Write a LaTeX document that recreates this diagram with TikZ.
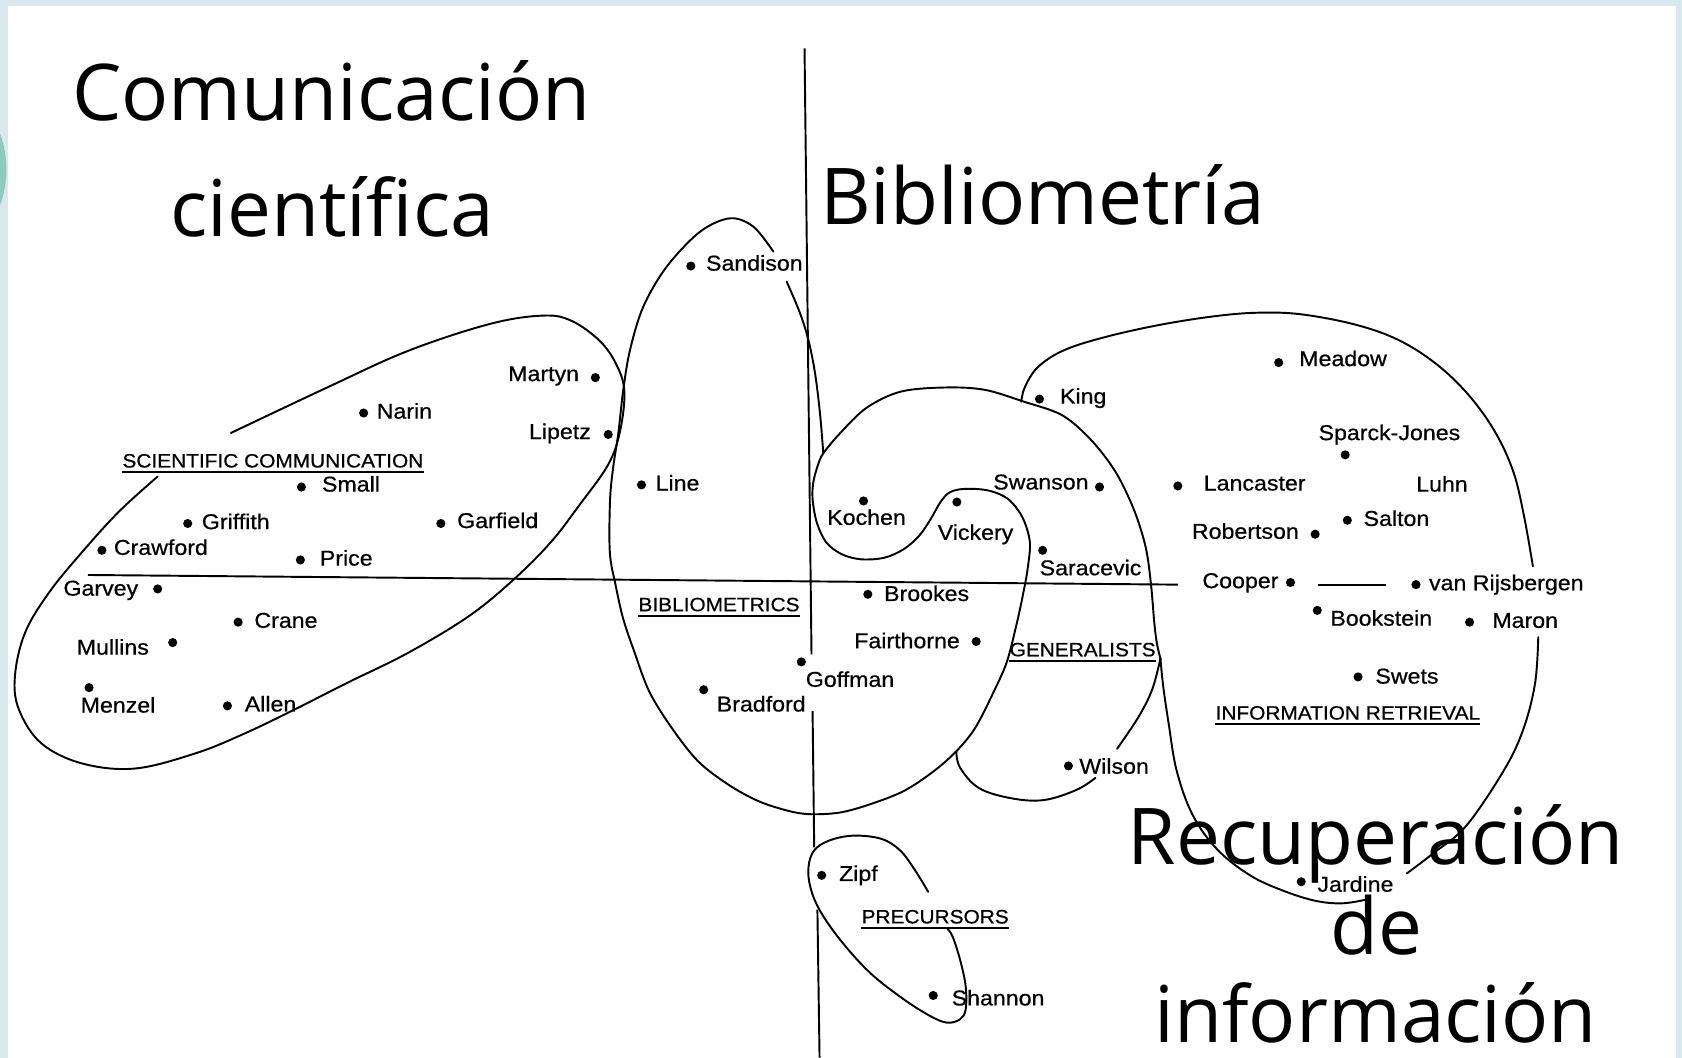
\documentclass[tikz,border=0pt]{standalone}
\usepackage{fontspec}
\newfontfamily\labfont[FakeStretch=1.08,FakeBold=0.6]{Liberation Sans}
\newfontfamily\titlefont{Open Sans}
\definecolor{bgblue}{HTML}{D9E7EE}
\definecolor{tealc}{HTML}{8CCBBE}
\begin{document}
\begin{tikzpicture}[x=1pt,y=-1pt,
  lab/.style={font=\labfont\fontsize{20}{24}\selectfont, inner sep=0pt, text height=14.5pt, text depth=4pt},
  caplab/.style={font=\labfont\fontsize{18}{22}\selectfont, inner sep=0pt, text height=13pt, text depth=0pt},
  dot/.style={circle, fill=black, inner sep=0pt, minimum size=8.5pt},
  big/.style={font=\titlefont\fontsize{73}{88}\selectfont, inner sep=0pt, anchor=base},
  curve/.style={line width=1.8pt, line cap=round, line join=round},
  axis/.style={line width=1.8pt},
  uline/.style={line width=1.5pt}]
\useasboundingbox (0,0) rectangle (1568,986);
% frame
\fill[bgblue] (0,0) rectangle (1568,986);
\fill[white] (7,6) rectangle (1562,986);
\begin{scope}
  \clip (0,0) rectangle (7,986);
  \fill[tealc] (-90,158) circle (96);
\end{scope}

% axes
\coordinate (v1a) at (750,45);   \coordinate (v1b) at (756.5,610);
\coordinate (v2a) at (757.5,663);  \coordinate (v2b) at (759,790);
\coordinate (v3a) at (762,848);  \coordinate (v3b) at (764,986);
\draw[axis] (v1a) -- (v1b);
\draw[axis] (v2a) -- (v2b);
\draw[axis] (v3a) -- (v3b);
\coordinate (h1a) at (82,536);   \coordinate (h1b) at (1098,545);
\coordinate (h2a) at (1229,545); \coordinate (h2b) at (1292,545);
\draw[axis] (h1a) -- (h1b);
\draw[axis] (h2a) -- (h2b);

% scientific communication ellipse
\draw[curve] plot[smooth, tension=0.6] coordinates {
 (215.3,403.6) (304.6,361.4) (380.6,327) (456.6,302) (506,294.2) (532.6,299) (559,317.7)
 (574.4,339.5) (582,364.6) (578,402) (566.8,433.4) (540,471) (513.6,505.3) (479.4,539.7)
 (437.6,574) (380.6,608.5) (323.6,636.6) (274.2,661.6) (228.6,683.5) (183,702) (126,716.4)
 (76.6,711.7) (38.6,693) (17.7,661.6) (13.9,630.4) (23.4,589.7) (46,552) (76.6,514.6)
 (110.8,477) (146.9,444.3)};

% Sandison lobe right side
\draw[curve] plot[smooth, tension=0.6] coordinates {
 (733.4,262.6) (745.8,292) (753.6,317) (759.8,348) (764.4,385.3) (767.5,422.6)};

% bibliometrics outline + S boundary + big arc
\draw[curve] plot[smooth, tension=0.55] coordinates {
 (721,234.6) (702.3,211.3) (680.5,203.5) (652.6,216) (621.5,248.6) (599.7,285.9)
 (587.3,326.3) (581,363.6) (576.4,404) (571.7,435) (568.7,466) (568.5,515)
 (574,546) (581,577) (591.4,607.8) (605.3,644.8) (626.3,678.7) (650.7,709.6) (678.6,731.2)
 (706.5,746.6) (734.5,755.8) (755.4,759) (783.3,757.4) (811.2,749.7) (842.7,737.3)
 (870.6,718.8) (891.5,700.3) (909,678.7) (926.4,644.8) (938.6,617) (947.4,583) (953.5,555)
 (958,530) (960,505) (953,482) (939.6,465.1) (921.6,457.3) (900,455.7) (885.6,458.8)
 (876.6,468.2) (867.6,483.9) (856.8,499.5) (842.4,512) (824.4,519.9) (802.8,521.4)
 (784.8,516.7) (770.4,505.8) (761.4,487) (757.5,465.1) (758.3,449) (762.5,433.5)
 (767.5,422.6) (783,404) (808,380) (840,365) (882,361.2) (918,363.4)
 (954,374.3) (990,387) (1017,410) (1040,440) (1057,475) (1068,510) (1073,545) (1076,580)
 (1078.5,600) (1081.8,613.8)};

% generalists lower loop (Wilson)
\draw[curve] plot[smooth, tension=0.6] coordinates {
 (1081.8,613.8) (1074.2,642.4) (1061.6,667.9) (1041.4,698)};
\draw[curve] plot[smooth, tension=0.6] coordinates {
 (1021.2,725.1) (1003.6,736.3) (973.3,745.8) (943,744.2) (912.7,734.7) (895,715.6) (891.5,700.3)};

% information retrieval
\draw[curve] plot[smooth, tension=0.6] coordinates {
 (952,374.5) (955.5,360.6) (968,341.8) (993,326) (1033,313.5) (1083,302.5) (1133,294.7)
 (1173,291.5) (1213,293) (1263,302.5) (1303,316.6) (1338,338.6) (1368,367) (1393,401.4)
 (1410.5,439) (1420.5,480) (1429,528)};
\draw[curve] plot[smooth, tension=0.6] coordinates {
 (1434,594) (1431,637) (1420,680) (1402,718) (1367,769.6) (1336.7,795) (1311.5,814.2)};
\draw[curve] plot[smooth, tension=0.6] coordinates {
 (1273.6,838.6) (1250.9,842.1) (1225.6,839.6) (1195.4,830) (1165,815.8) (1134.8,791.9)
 (1112,760.1) (1097,718.8) (1089.4,674.2) (1084.3,639.3) (1081.8,613.8)};

% precursors oval
\draw[curve] plot[smooth, tension=0.6] coordinates {
 (865.3,831.4) (853.1,811.4) (839.2,792.9) (821.7,782) (795.5,779) (772.9,783.6) (758.9,792.9)
 (753.7,808.3) (755.4,826.8) (764.1,848.4) (783.3,876.2) (811.2,907) (842.7,931.7)
 (867.1,947.1) (882.8,953.3) (895,950.2) (900.2,941) (900.2,919.3) (895,894.7) (888,873)
 (882.8,865.4)};

% dots
\foreach \n/\p in {martyn/{(555,352)}, narin/{(339,385)}, lipetz/{(567,405)}, small/{(281,454)},
  griffith/{(175,488)}, garfield/{(411,488)}, crawford/{(95,513)}, price/{(280,522)},
  garvey/{(147,549)}, crane/{(222,580)}, mullins/{(161,599)}, menzel/{(83,641)}, allen/{(212,658)},
  sandison/{(644,248)}, line/{(598,452)}, goffman/{(747,617)}, bradford/{(656,643)},
  brookes/{(809,554)}, fairthorne/{(910,598)}, kochen/{(805,467)}, vickery/{(892,468)},
  swanson/{(1025,454)}, saracevic/{(972,513)}, king/{(969,372)}, meadow/{(1192,338)},
  sparck/{(1254,424)}, lancaster/{(1098,453)}, robertson/{(1226,498)}, salton/{(1256,485)},
  cooper/{(1203,543)}, vanr/{(1320,545)}, bookstein/{(1228,569)}, maron/{(1370,580)},
  swets/{(1266,631)}, wilson/{(996,714)}, jardine/{(1213,822)}, zipf/{(766,816)},
  shannon/{(870,928)}}
  \node[dot] (d-\n) at \p {};

% name labels
\node[lab, anchor=east] (t-martyn) at (540,350) {Martyn};
\node[lab, anchor=west] (t-narin) at (351,385) {Narin};
\node[lab, anchor=east] (t-lipetz) at (551,404) {Lipetz};
\node[lab, anchor=west] (t-small) at (300,453) {Small};
\node[lab, anchor=west] (t-griffith) at (188,488) {Griffith};
\node[lab, anchor=west] (t-garfield) at (426,487) {Garfield};
\node[lab, anchor=west] (t-crawford) at (106,512) {Crawford};
\node[lab, anchor=west] (t-price) at (298,522) {Price};
\node[lab, anchor=east] (t-garvey) at (129,550) {Garvey};
\node[lab, anchor=west] (t-crane) at (237,580) {Crane};
\node[lab, anchor=east] (t-mullins) at (139,605) {Mullins};
\node[lab, anchor=west] (t-menzel) at (75,659) {Menzel};
\node[lab, anchor=west] (t-allen) at (228,658) {Allen};
\node[lab, anchor=west] (t-sandison) at (658,247) {Sandison};
\node[lab, anchor=west] (t-line) at (611,452) {Line};
\node[lab, anchor=west] (t-goffman) at (751,635) {Goffman};
\node[lab, anchor=west] (t-bradford) at (668,658) {Bradford};
\node[lab, anchor=west] (t-brookes) at (824,555) {Brookes};
\node[lab, anchor=east] (t-fairthorne) at (895,599) {Fairthorne};
\node[lab, anchor=west] (t-kochen) at (771,484) {Kochen};
\node[lab, anchor=west] (t-vickery) at (874,498) {Vickery};
\node[lab, anchor=east] (t-swanson) at (1015,451) {Swanson};
\node[lab, anchor=west] (t-saracevic) at (969,531) {Saracevic};
\node[lab, anchor=west] (t-king) at (988,371) {King};
\node[lab, anchor=west] (t-meadow) at (1211,336) {Meadow};
\node[lab, anchor=west] (t-sparck) at (1229,405) {Sparck-Jones};
\node[lab, anchor=west] (t-lancaster) at (1122,452) {Lancaster};
\node[lab, anchor=west] (t-luhn) at (1320,453) {Luhn};
\node[lab, anchor=east] (t-robertson) at (1211,497) {Robertson};
\node[lab, anchor=west] (t-salton) at (1271,485) {Salton};
\node[lab, anchor=east] (t-cooper) at (1192,543) {Cooper};
\node[lab, anchor=west] (t-vanr) at (1332,545) {van Rijsbergen};
\node[lab, anchor=west] (t-bookstein) at (1240,578) {Bookstein};
\node[lab, anchor=west] (t-maron) at (1391,580) {Maron};
\node[lab, anchor=west] (t-swets) at (1282,632) {Swets};
\node[lab, anchor=west] (t-wilson) at (1006,716) {Wilson};
\node[lab, anchor=west] (t-jardine) at (1228,826) {Jardine};
\node[lab, anchor=west] (t-zipf) at (782,816) {Zipf};
\node[lab, anchor=west] (t-shannon) at (887,932) {Shannon};

% group labels (underlined)
\node[caplab, anchor=south west] (g-sci) at (114,436) {SCIENTIFIC COMMUNICATION};
\node[caplab, anchor=south west] (g-bib) at (595,570) {BIBLIOMETRICS};
\node[caplab, anchor=south west] (g-gen) at (941,612) {GENERALISTS};
\node[caplab, anchor=south west] (g-ir) at (1133,671) {INFORMATION RETRIEVAL};
\node[caplab, anchor=south west] (g-pre) at (803,861) {PRECURSORS};
\foreach \g in {g-sci,g-bib,g-gen,g-ir,g-pre}
  \draw[uline] ([yshift=-4pt]\g.south west) -- ([yshift=-4pt]\g.south east);

% big titles
\node[big] (c1) at (309,112) {Comunicación};
\node[big] (c2) at (309.5,220) {científica};
\node[big] (bib) at (972,209) {Bibliometría};
\node[big] (r1) at (1282.5,806) {Recuperación};
\node[big] (r2) at (1283,890) {de};
\node[big] (r3) at (1282.5,972) {información};
\end{tikzpicture}
\end{document}
